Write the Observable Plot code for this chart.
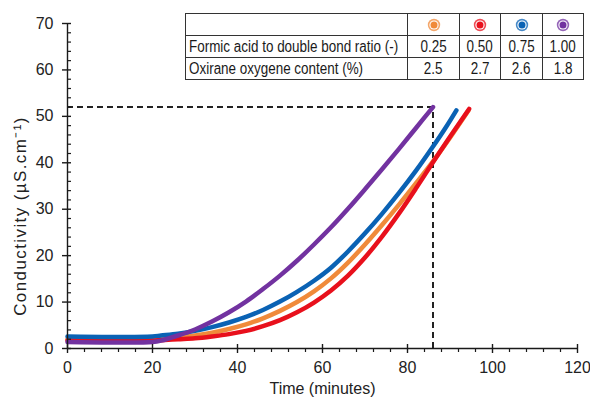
<!DOCTYPE html>
<html>
<head>
<meta charset="utf-8">
<script src="https://cdn.jsdelivr.net/npm/d3@7"></script>
<script src="https://cdn.jsdelivr.net/npm/@observablehq/plot@0.6"></script>
<style>
  html, body { margin: 0; padding: 0; background: #fff; overflow: hidden; }
  #wrap { position: relative; width: 590px; height: 401px; }
  #wrap svg { overflow: visible; }
  #tbl { position: absolute; left: 185px; top: 13px; border-collapse: collapse; table-layout: fixed;
         width: 398px; font-family: "Liberation Sans", Arial, sans-serif;
         font-size: 16px; color: #1a1a1a; background: #fff; }
  #tbl td { border: 1.3px solid #333; height: 21px; padding: 0; line-height: 21px; white-space: nowrap; overflow: visible; }
  #tbl td.lab { text-align: left; padding-left: 3px; }
  #tbl td.num { text-align: center; }
  #tbl span.sq { display: inline-block; transform: scaleX(0.84); }
  #tbl td.lab span.sq { transform-origin: 0 50%; }
  #tbl td.num span.sq { transform-origin: 50% 50%; }
  #tbl td svg { display: block; margin: 0 auto; }
</style>
</head>
<body>
<div id="wrap"></div>
<script>
// ---- data ----
const ratios = ["0.25", "0.50", "0.75", "1.00"];
const oxirane = ["2.5", "2.7", "2.6", "1.8"];
const seriesColors = ["#f08a3a", "#e8101c", "#0a62b4", "#7232a0"];
const rowLabels = ["Formic acid to double bond ratio (-)", "Oxirane oxygene content (%)"];

// ratio 0.25 (orange)
const t025 = [0, 10, 20, 22, 26, 30, 34, 38, 42, 46, 50, 54, 58, 62, 66, 70, 74, 78, 82, 86, 90, 94.3];
const c025 = [2.0, 2.0, 2.0, 2.1, 2.4, 2.8, 3.4, 4.2, 5.2, 6.5, 8.1, 10.0, 12.3, 15.1, 18.5, 22.4, 26.6, 31.0, 35.6, 40.3, 45.4, 51.2];
// ratio 0.50 (red)
const t050 = [0, 10, 20, 22, 26, 30, 34, 38, 42, 46, 50, 54, 58, 62, 66, 70, 74, 78, 82, 86, 90, 94.5];
const c050 = [1.7, 1.7, 1.7, 1.8, 2.0, 2.2, 2.6, 3.1, 3.8, 4.8, 6.1, 7.8, 9.9, 12.5, 15.7, 19.6, 24.1, 29.1, 34.5, 40.1, 45.6, 51.6];
// ratio 0.75 (blue)
const t075 = [0, 10, 20, 22, 26, 30, 34, 38, 42, 46, 50, 54, 58, 62, 66, 70, 74, 78, 82, 86, 89, 91.5];
const c075 = [2.6, 2.5, 2.6, 2.8, 3.2, 3.8, 4.6, 5.6, 6.8, 8.3, 10.1, 12.2, 14.6, 17.4, 20.9, 24.8, 29.0, 33.5, 38.3, 43.5, 47.6, 51.3];
// ratio 1.00 (purple)
const t100 = [0, 10, 20, 22, 26, 30, 34, 38, 42, 46, 50, 54, 58, 62, 66, 70, 74, 78, 82, 86];
const c100 = [1.4, 1.3, 1.4, 1.7, 2.8, 4.1, 5.8, 7.8, 10.1, 12.8, 15.7, 18.9, 22.4, 26.1, 30.1, 34.3, 38.6, 43.0, 47.5, 52.0];

const refTime = [86];
const refCond = [52];

const xMajor = [0, 20, 40, 60, 80, 100, 120];
const xMinor = d3.range(0, 121, 4).filter(v => v % 20 !== 0);
const yMajor = [0, 10, 20, 30, 40, 50, 60, 70];
const yMinor = d3.range(0, 71, 2).filter(v => v % 10 !== 0);

const xTitle = "Time (minutes)";
const yTitle = "Conductivity (µS.cm⁻¹)";

// ---- build ----
const seriesT = [t025, t050, t075, t100];
const seriesC = [c025, c050, c075, c100];
const rows = [];
seriesT.forEach((ts, k) => ts.forEach((t, i) => rows.push({ratio: ratios[k], t, c: seriesC[k][i]})));

const axisColor = "#1a1a1a";
const chart = Plot.plot({
  width: 590, height: 401,
  marginLeft: 67, marginRight: 13, marginTop: 23, marginBottom: 53,
  x: {domain: [0, 120]},
  y: {domain: [0, 70]},
  color: {domain: ratios, range: seriesColors},
  style: {fontFamily: "'Liberation Sans', Arial, sans-serif", fontSize: "16px", color: "#222", background: "#fff", overflow: "visible"},
  marks: [
    // reference dashed lines
    Plot.ruleY(refCond, {x1: 0, x2: refTime[0], stroke: "#222", strokeWidth: 2, strokeDasharray: "6,4"}),
    Plot.ruleX(refTime, {y1: 0, y2: refCond[0], stroke: "#222", strokeWidth: 2, strokeDasharray: "6,4"}),
    // series
    Plot.line(rows, {x: "t", y: "c", z: "ratio", stroke: "ratio", strokeWidth: 4.5, curve: "catmull-rom", strokeLinecap: "round"}),
    // axis lines
    Plot.ruleY([0], {x1: 0, x2: 120, stroke: axisColor, strokeWidth: 1.4}),
    Plot.ruleX([0], {y1: 0, y2: 70, stroke: axisColor, strokeWidth: 1.4}),
    // ticks
    Plot.ruleX(xMajor, {y1: 0, y2: 0, insetTop: -4, insetBottom: -5, stroke: axisColor, strokeWidth: 1.4}),
    Plot.ruleX(xMinor, {y1: 0, y2: 0, insetTop: 0, insetBottom: -4, stroke: axisColor, strokeWidth: 1.2}),
    Plot.ruleY(yMajor, {x1: 0, x2: 0, insetLeft: -5, insetRight: -4, stroke: axisColor, strokeWidth: 1.4}),
    Plot.ruleY(yMinor, {x1: 0, x2: 0, insetLeft: 0, insetRight: -4, stroke: axisColor, strokeWidth: 1.2}),
    // tick labels
    Plot.axisX({ticks: xMajor, tickSize: 0, tickPadding: 13, label: null, fill: "#222"}),
    Plot.axisY({ticks: yMajor, tickSize: 0, tickPadding: 14, label: null, fill: "#222"}),
    // titles
    Plot.text([xTitle], {frameAnchor: "bottom", dy: 40, lineAnchor: "middle", textAnchor: "middle", fill: "#222", fontSize: 16}),
    Plot.text([yTitle], {frameAnchor: "left", dx: -47, dy: 30, rotate: -90, lineAnchor: "middle", textAnchor: "middle", fill: "#222", fontSize: 17})
  ]
});
d3.select(chart).selectAll("text").filter(function() { return this.textContent === yTitle; })
  .style("letter-spacing", "1.4px");
const wrap = document.getElementById("wrap");
wrap.appendChild(chart);

// ---- legend table ----
const tbl = document.createElement("table");
tbl.id = "tbl";
const colW = [222, 52, 41, 42, 41];
function marker(col) {
  return `<svg width="14" height="14" viewBox="-7 -7 14 14"><circle r="6.2" fill="${col}" opacity="0.75"/><circle r="4.6" fill="#fff"/><circle r="3.5" fill="${col}"/></svg>`;
}
let html = "<colgroup>" + colW.map(w => `<col style="width:${w}px">`).join("") + "</colgroup>";
html += "<tr><td class='lab'></td>" + seriesColors.map(c => `<td class='num'>${marker(c)}</td>`).join("") + "</tr>";
html += `<tr><td class='lab'><span class='sq'>${rowLabels[0]}</span></td>` + ratios.map(r => `<td class='num'><span class='sq'>${r}</span></td>`).join("") + "</tr>";
html += `<tr><td class='lab'><span class='sq'>${rowLabels[1]}</span></td>` + oxirane.map(r => `<td class='num'><span class='sq'>${r}</span></td>`).join("") + "</tr>";
tbl.innerHTML = html;
wrap.appendChild(tbl);
</script>
</body>
</html>
